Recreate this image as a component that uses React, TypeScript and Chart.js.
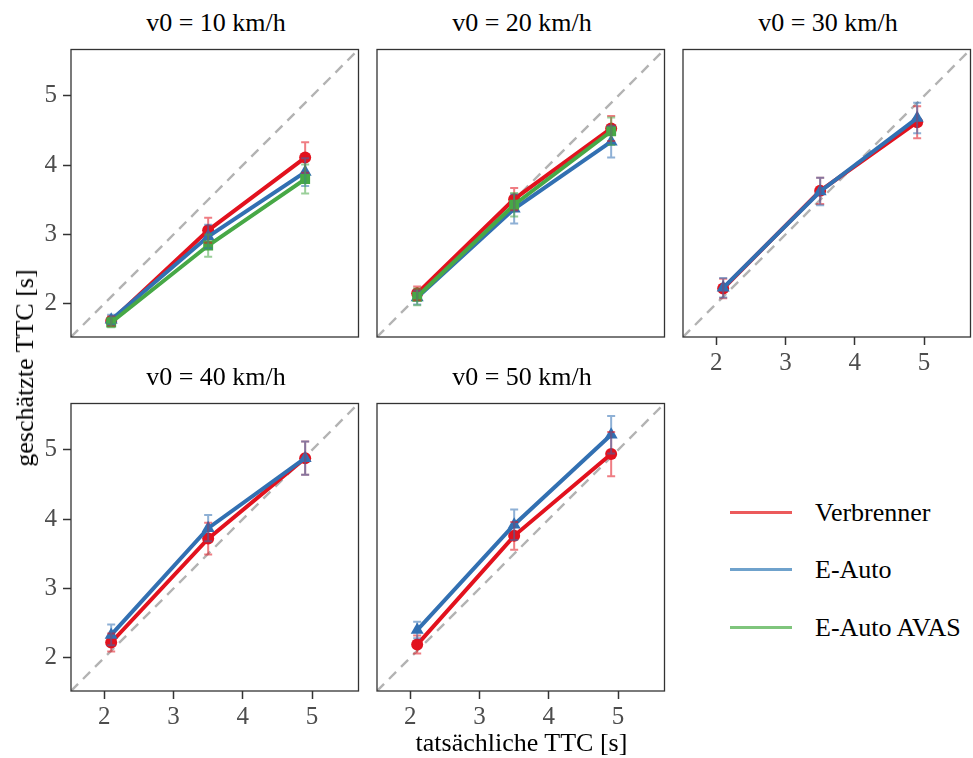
import React, { useEffect, useRef } from "react";
import { Chart, registerables } from "chart.js";

Chart.register(...registerables);

// ---------- data ----------
const panelTitles = ["v0 = 10 km/h", "v0 = 20 km/h", "v0 = 30 km/h", "v0 = 40 km/h", "v0 = 50 km/h"];
const actualTTC = [2.1, 3.5, 4.9];
const tickValues = [2, 3, 4, 5];
const seriesNames = ["Verbrenner", "E-Auto", "E-Auto AVAS"];

const verbrennerMean = [
  [1.75, 3.06, 4.11],
  [2.15, 3.51, 4.53],
  [2.22, 3.63, 4.62],
  [2.22, 3.72, 4.88],
  [2.19, 3.76, 4.94],
];
const verbrennerErr = [
  [0.07, 0.18, 0.22],
  [0.1, 0.16, 0.18],
  [0.14, 0.19, 0.23],
  [0.13, 0.23, 0.24],
  [0.13, 0.2, 0.32],
];
const eAutoMean = [
  [1.77, 2.97, 3.9],
  [2.09, 3.37, 4.34],
  [2.23, 3.62, 4.68],
  [2.33, 3.87, 4.88],
  [2.4, 3.92, 5.22],
];
const eAutoErr = [
  [0.07, 0.17, 0.2],
  [0.1, 0.21, 0.23],
  [0.14, 0.2, 0.22],
  [0.15, 0.19, 0.24],
  [0.12, 0.22, 0.27],
];
const eAutoAvasMean = [[1.73, 2.84, 3.8], [2.1, 3.43, 4.49], null, null, null];
const eAutoAvasErr = [[0.07, 0.16, 0.21], [0.12, 0.17, 0.2], null, null, null];

// ---------- style / layout ----------
const AXIS_MIN = 1.52;
const AXIS_MAX = 5.67;
const seriesColors = ["#E2121E", "#3270B2", "#47A846"];
const seriesAlpha = ["rgba(226,18,30,0.55)", "rgba(50,112,178,0.55)", "rgba(71,168,70,0.55)"];
const legendColors = ["rgba(228,26,28,0.72)", "rgba(55,126,184,0.72)", "rgba(77,175,74,0.72)"];
const pointStyles = ["circle", "triangle", "rect"];
const pointRadii = [6, 7.5, 7];
const FONT = "'Liberation Serif', 'Times New Roman', serif";

const colLeft = [71, 377, 683];
const rowTop = [47, 401];
const PANEL = 290;
const PAD_L = 60;
const PAD_T = 5;
const PAD_R = 5;
const PAD_B = 45;
const CW = PAD_L + PANEL + PAD_R;
const CH = PAD_T + PANEL + PAD_B;

const allMeans = [verbrennerMean, eAutoMean, eAutoAvasMean];
const allErrs = [verbrennerErr, eAutoErr, eAutoAvasErr];

function zeroPad(s: any) {
  s.paddingTop = 0;
  s.paddingBottom = 0;
  s.paddingLeft = 0;
  s.paddingRight = 0;
}

function Panel({ index }: { index: number }) {
  const ref = useRef<HTMLCanvasElement>(null);
  const col = index % 3;
  const row = Math.floor(index / 3);
  useEffect(() => {
    const showY = col === 0;
    const showX = row === 1 || index === 2;
    const datasets: any[] = [];
    for (let s = 0; s < 3; s++) {
      const m = allMeans[s][index];
      if (!m) continue;
      datasets.push({
        label: seriesNames[s],
        data: actualTTC.map((x, j) => ({ x, y: m[j] })),
        borderColor: seriesColors[s],
        backgroundColor: seriesColors[s],
        borderWidth: 4,
        pointStyle: pointStyles[s],
        pointRadius: pointRadii[s],
        pointBorderWidth: 0,
        order: 3 - s,
      });
    }
    datasets.push({
      label: "diag",
      data: [
        { x: AXIS_MIN, y: AXIS_MIN },
        { x: AXIS_MAX, y: AXIS_MAX },
      ],
      borderColor: "#B3B3B3",
      borderWidth: 2.4,
      borderDash: [10, 7],
      pointRadius: 0,
      order: 10,
      clip: 0,
    });

    const errorBars = {
      id: "errorBars",
      afterDatasetsDraw(chart: any) {
        const ctx = chart.ctx;
        const xs = chart.scales.x;
        const ys = chart.scales.y;
        ctx.save();
        for (let s = 0; s < 3; s++) {
          const m = allMeans[s][index];
          const e = allErrs[s][index];
          if (!m || !e) continue;
          ctx.strokeStyle = seriesAlpha[s];
          ctx.lineWidth = 2;
          for (let j = 0; j < actualTTC.length; j++) {
            const x = xs.getPixelForValue(actualTTC[j]);
            const y1 = ys.getPixelForValue(m[j] + e[j]);
            const y2 = ys.getPixelForValue(m[j] - e[j]);
            ctx.beginPath();
            ctx.moveTo(x, y1);
            ctx.lineTo(x, y2);
            ctx.moveTo(x - 4, y1);
            ctx.lineTo(x + 4, y1);
            ctx.moveTo(x - 4, y2);
            ctx.lineTo(x + 4, y2);
            ctx.stroke();
          }
        }
        ctx.restore();
      },
    };
    const frame = {
      id: "frame",
      afterDraw(chart: any) {
        const a = chart.chartArea;
        const ctx = chart.ctx;
        ctx.save();
        ctx.strokeStyle = "#333333";
        ctx.lineWidth = 1.3;
        ctx.strokeRect(a.left, a.top, a.right - a.left, a.bottom - a.top);
        ctx.restore();
      },
    };

    const tickFont = { family: FONT, size: 25 };
    const chart = new Chart(ref.current as HTMLCanvasElement, {
      type: "line",
      data: { datasets },
      options: {
        animation: false,
        responsive: false,
        events: [],
        layout: { padding: { left: 0, top: PAD_T, right: PAD_R, bottom: 0 } },
        plugins: { legend: { display: false }, tooltip: { enabled: false } },
        scales: {
          x: {
            type: "linear",
            min: AXIS_MIN,
            max: AXIS_MAX,
            afterBuildTicks: (s: any) => {
              s.ticks = tickValues.map((v) => ({ value: v }));
            },
            afterFit: (s: any) => {
              s.height = PAD_B;
              zeroPad(s);
            },
            ticks: {
              display: showX,
              font: tickFont,
              color: "#4D4D4D",
              padding: 3,
              maxRotation: 0,
              autoSkip: false,
            },
            grid: {
              display: true,
              drawOnChartArea: false,
              drawTicks: showX,
              tickLength: 8,
              tickColor: "#333333",
              tickWidth: 1.5,
            },
            border: { display: false },
          },
          y: {
            type: "linear",
            min: AXIS_MIN,
            max: AXIS_MAX,
            afterBuildTicks: (s: any) => {
              s.ticks = tickValues.map((v) => ({ value: v }));
            },
            afterFit: (s: any) => {
              s.width = PAD_L;
              zeroPad(s);
            },
            ticks: {
              display: showY,
              font: tickFont,
              color: "#4D4D4D",
              padding: 6,
              autoSkip: false,
            },
            grid: {
              display: true,
              drawOnChartArea: false,
              drawTicks: showY,
              tickLength: 8,
              tickColor: "#333333",
              tickWidth: 1.5,
            },
            border: { display: false },
          },
        },
      } as any,
      plugins: [errorBars, frame],
    });
    return () => chart.destroy();
  }, [index]);
  return (
    <canvas
      ref={ref}
      width={CW}
      height={CH}
      style={{ position: "absolute", left: colLeft[col] - PAD_L, top: rowTop[row] - PAD_T, width: CW, height: CH }}
    />
  );
}

const legendY = [512, 569, 627];

export default function App() {
  const textStyle: React.CSSProperties = {
    position: "absolute",
    fontFamily: FONT,
    fontSize: 26,
    lineHeight: "26px",
    color: "#000",
    whiteSpace: "nowrap",
  };
  return (
    <div
      style={{
        position: "absolute",
        left: 0,
        top: 0,
        width: 973,
        height: 758,
        overflow: "hidden",
        background: "#fff",
      }}
    >
      {panelTitles.map((t, i) => (
        <Panel key={"p" + i} index={i} />
      ))}
      {panelTitles.map((t, i) => (
        <div
          key={"t" + i}
          style={{
            ...textStyle,
            left: colLeft[i % 3],
            width: PANEL,
            textAlign: "center",
            top: rowTop[Math.floor(i / 3)] - 37,
          }}
        >
          {t}
        </div>
      ))}
      <div style={{ ...textStyle, left: 71, width: 901, textAlign: "center", top: 730 }}>tatsächliche TTC [s]</div>
      <div
        style={{
          ...textStyle,
          left: 25,
          top: 368,
          transform: "translate(-50%, -50%) rotate(-90deg)",
        }}
      >
        geschätzte TTC [s]
      </div>
      {seriesNames.map((n, i) => (
        <React.Fragment key={"l" + i}>
          <div
            style={{
              position: "absolute",
              left: 730,
              top: legendY[i] - 1.5,
              width: 62,
              height: 3,
              background: legendColors[i],
            }}
          />
          <div style={{ ...textStyle, left: 815, top: legendY[i] - 12 }}>{n}</div>
        </React.Fragment>
      ))}
    </div>
  );
}
